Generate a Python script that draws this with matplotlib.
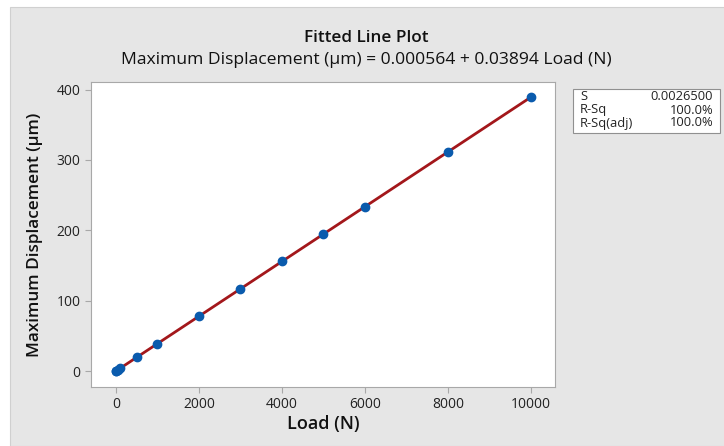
import matplotlib
matplotlib.use("Agg")
import matplotlib.pyplot as plt
import numpy as np
from matplotlib.patches import Rectangle

plt.rcParams['font.family'] = ['Open Sans', 'DejaVu Sans']

# data
load = [0, 10, 50, 100, 500, 1000, 2000, 3000, 4000, 5000, 6000, 8000, 10000]
intercept = 0.000564
slope = 0.03894
disp = [intercept + slope * v for v in load]

xticks = [0, 2000, 4000, 6000, 8000, 10000]
yticks = [0, 100, 200, 300, 400]
stat_names = ["S", "R-Sq", "R-Sq(adj)"]
stat_values = ["0.0026500", "100.0%", "100.0%"]

fig = plt.figure(figsize=(7.24, 4.46), dpi=100)
fig.patch.set_facecolor("white")
# gray panel behind everything
fig.patches.append(Rectangle((10 / 724, 0), 1, 1 - 7 / 446, transform=fig.transFigure,
                             facecolor="#e6e6e6", edgecolor="#d0d0d0", linewidth=0.8, zorder=-1))

ax = fig.add_axes([91 / 724, 1 - 387 / 446, 464 / 724, 305 / 446])
ax.set_facecolor("white")

xs = np.array([min(load), max(load)])
ax.plot(xs, intercept + slope * xs, color="#a3171b", linewidth=2, zorder=2)
ax.scatter(load, disp, s=36, color="#0a5bad", zorder=3)

ax.set_xlim(-602, 10578)
ax.set_ylim(-22.7, 410.8)
ax.set_xticks(xticks)
ax.set_yticks(yticks)
for s in ax.spines.values():
    s.set_color("#a8a8a8")
ax.tick_params(colors="#a8a8a8", labelcolor="#222222", labelsize=10, length=4, direction="out")

ax.set_xlabel("Load (N)", fontsize=13, fontweight="semibold", color="#111111", labelpad=2)
ax.set_ylabel("Maximum Displacement (µm)", fontsize=12.3, fontweight="semibold", color="#111111", labelpad=10)

fig.text(366 / 724, 1 - 38 / 446, "Fitted Line Plot", ha="center", va="center",
         fontsize=12.3, fontweight="semibold", color="#111111")
fig.text(366 / 724, 1 - 60 / 446,
         "Maximum Displacement (µm) = 0.000564 + 0.03894 Load (N)", ha="center", va="center",
         fontsize=12.6, color="#111111")

# stats box
fig.patches.append(Rectangle((573 / 724, 1 - 133 / 446), 147 / 724, 44 / 446, transform=fig.transFigure,
                             facecolor="white", edgecolor="#909090", linewidth=0.8))
for i, (n, v) in enumerate(zip(stat_names, stat_values)):
    yy = 1 - (97 + i * 13) / 446
    fig.text(580 / 724, yy, n, ha="left", va="center", fontsize=9.3, color="#222222")
    fig.text(713 / 724, yy, v, ha="right", va="center", fontsize=9.3, color="#222222")

fig.savefig("out.png", dpi=100, facecolor=fig.get_facecolor())
